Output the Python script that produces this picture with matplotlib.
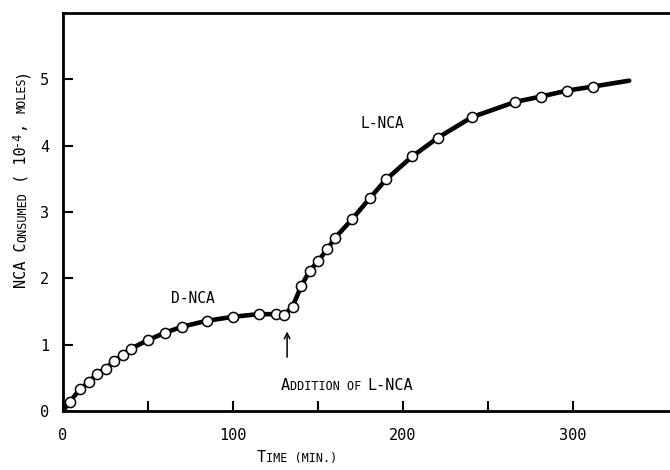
import matplotlib
matplotlib.use("Agg")
import matplotlib.pyplot as plt

FONT = "DejaVu Sans Mono"
W, H = 670, 470

# time (min) and NCA consumed (10^-4 moles)
time_min = [4, 10, 15, 20, 25, 30, 35.5, 40, 50, 60, 70, 84.5, 100, 115,
            125, 130, 135, 140, 145, 150, 155.5, 160, 170, 180.5, 190,
            205.5, 220.5, 240.5, 266, 281, 296.5, 311.5]
nca = [0.14, 0.33, 0.43, 0.56, 0.64, 0.75, 0.85, 0.94, 1.07, 1.18, 1.27,
       1.36, 1.42, 1.46, 1.46, 1.45, 1.57, 1.88, 2.11, 2.26, 2.44, 2.61,
       2.89, 3.21, 3.49, 3.84, 4.12, 4.43, 4.66, 4.74, 4.83, 4.89]

# the drawn curve starts at the origin and runs on past the last point
curve_start = (0, 0)
curve_end = (333, 4.98)

x_ticks = [0, 50, 100, 150, 200, 250, 300]
x_labels = ["0", "", "100", "", "200", "", "300"]
y_ticks = [0, 1, 2, 3, 4, 5]
y_labels = ["0", "1", "2", "3", "4", "5"]

fig = plt.figure(figsize=(W / 100, H / 100), dpi=100)
ax = fig.add_axes([63 / W, 59 / H, 1 - 63 / W, 398 / H])

curve_t = [curve_start[0]] + time_min + [curve_end[0]]
curve_v = [curve_start[1]] + nca + [curve_end[1]]
ax.plot(curve_t, curve_v, color="black", lw=3.3, solid_capstyle="round",
        zorder=2)
ax.plot(time_min, nca, "o", ms=7.3, mfc="white", mec="black", mew=1.1,
        zorder=3)

ax.set_xlim(0, 357)
ax.set_ylim(0, 6)

for s in ["left", "bottom", "top"]:
    ax.spines[s].set_linewidth(2.0)
ax.spines["right"].set_visible(False)

ax.set_xticks(x_ticks)
ax.set_xticklabels(x_labels)
ax.set_yticks(y_ticks)
ax.set_yticklabels(y_labels)
ax.tick_params(direction="in", length=7, width=1.5, labelsize=11)
ax.tick_params(axis="x", pad=12)
ax.tick_params(axis="y", pad=10)
for lab in ax.get_xticklabels() + ax.get_yticklabels():
    lab.set_family(FONT)

ax.text(76.5, 1.69, "D-NCA", family=FONT, fontsize=10.5, ha="center",
        va="center")
ax.text(188, 4.34, "L-NCA", family=FONT, fontsize=10.5, ha="center",
        va="center")
ax.annotate("", xy=(131.8, 1.24), xytext=(131.8, 0.77),
            arrowprops=dict(arrowstyle="->", color="black", lw=1.1,
                            mutation_scale=10))


def small_caps(x, y, parts, rot=0):
    # parts: (text, fontsize, rise in px); mono font so width is easy
    total = sum(len(p[0]) * 0.602 * p[1] * 100 / 72 for p in parts)
    pos = -total / 2
    for s, size, rise in parts:
        if rot == 0:
            px, py = x + pos, y + rise
        else:
            px, py = x - rise, y + pos
        fig.text(px / W, py / H, s, family=FONT, fontsize=size,
                 rotation=rot, rotation_mode="anchor", ha="left",
                 va="baseline")
        pos += len(s) * 0.602 * size * 100 / 72


BIG, SMALL = 11, 8.5
small_caps(297, 8, [("T", BIG, 0), ("IME (MIN.)", SMALL, 0)])
small_caps(347, 80, [("A", BIG, 0), ("DDITION OF ", SMALL, 0),
                     ("L-NCA", BIG, 0)])
small_caps(26, 292, [("NCA C", BIG, 0), ("ONSUMED", SMALL, 0),
                     (" ( 10", BIG, 0), ("-4", SMALL, 6),
                     (", ", BIG, 0), ("MOLES", SMALL, 0), (")", BIG, 0)],
           rot=90)

fig.savefig("out.png", dpi=100)
